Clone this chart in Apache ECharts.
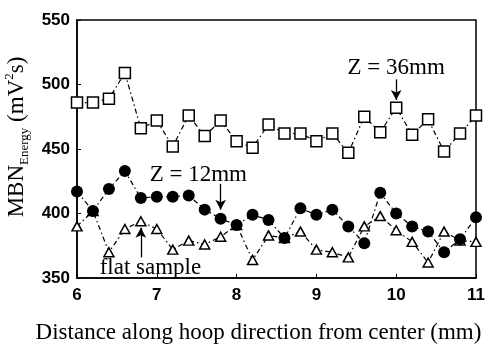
<!DOCTYPE html>
<html>
<head>
<meta charset="utf-8">
<script src="https://cdn.jsdelivr.net/npm/echarts@6/dist/echarts.min.js"></script>
<style>
  html, body { margin: 0; padding: 0; background: #fff; }
  #chart { width: 485px; height: 346px; }
</style>
</head>
<body>
<div id="chart"></div>
<script>
// distance along hoop direction (mm)
const distance = [6.0, 6.2, 6.4, 6.6, 6.8, 7.0, 7.2, 7.4, 7.6, 7.8, 8.0, 8.2, 8.4,
                  8.6, 8.8, 9.0, 9.2, 9.4, 9.6, 9.8, 10.0, 10.2, 10.4, 10.6, 10.8, 11.0];
// MBN energy
const z36 = [486, 486, 489, 509, 466, 472, 452, 476, 460, 472, 456, 451, 469,
             462, 462, 456, 462, 447, 475, 463, 482, 461, 473, 448, 462, 476];
const z12 = [417, 402, 419, 433, 412, 413, 413, 414, 403, 396, 391, 399, 395,
             381, 404, 399, 403, 390, 377, 416, 400, 390, 386, 370, 380, 397];
const flat = [390, 402, 370, 388, 394, 388, 372, 379, 376, 382, 391, 364, 383,
              381, 386, 372, 370, 366, 390, 398, 387, 378, 362, 386, 379, 378];

const xTicks = [6, 7, 8, 9, 10, 11];
const yTicks = [350, 400, 450, 500, 550];

const serif = '"Liberation Serif", "DejaVu Serif", serif';
const sans = '"Liberation Sans", Arial, sans-serif';
const dashDot = [5, 3, 1.5, 3];

const pairs = (ys) => distance.map((x, i) => [x, ys[i]]);

const chart = echarts.init(document.getElementById('chart'));

// text + arrow annotations placed in data coordinates
const note = (text, at) => ({
    coord: at,
    value: text,
    label: { show: true, formatter: text, position: 'inside', color: '#000', fontFamily: serif, fontSize: 23 }
});
const arrow = (from, to) => [{ coord: from }, { coord: to }];
const arrowStyle = {
    silent: true, symbol: ['none', 'arrow'], symbolSize: [8, 10],
    lineStyle: { color: '#000', width: 1.3, type: 'solid' },
    label: { show: false }
};

const baseLine = {
    type: 'line',
    lineStyle: { color: '#000', width: 1.2, type: dashDot },
    clip: true,
    animation: false
};

const option = {
    backgroundColor: '#fff',
    animation: false,
    grid: {
        left: 77, right: 9, top: 20, bottom: 68,
        outerBoundsMode: 'none',
        containLabel: false,
        show: true, borderColor: '#000', borderWidth: 1.5
    },
    xAxis: {
        type: 'value',
        min: xTicks[0],
        max: xTicks[xTicks.length - 1],
        interval: 1,
        name: 'Distance along hoop direction from center (mm)',
        nameLocation: 'middle',
        nameGap: 43,
        nameTextStyle: { fontFamily: serif, fontSize: 23, color: '#000', padding: [0, 36, 0, 0] },
        axisLine: { lineStyle: { color: '#000', width: 1.5 } },
        axisTick: { inside: true, length: 4, lineStyle: { color: '#000' } },
        axisLabel: { fontFamily: sans, fontWeight: 'bold', fontSize: 17, color: '#000', margin: 9 },
        splitLine: { show: false }
    },
    yAxis: {
        type: 'value',
        min: yTicks[0],
        max: yTicks[yTicks.length - 1],
        interval: 50,
        name: '{b|MBN}{sub|Energy}{b| (mV}{sup|2}{b|s)}',
        nameLocation: 'middle',
        nameGap: 45,
        nameTextStyle: {
            padding: [0, 0, 0, 24],
            rich: {
                b: { fontFamily: serif, fontSize: 23, color: '#000', lineHeight: 28, verticalAlign: 'middle' },
                sub: { fontFamily: serif, fontSize: 13, color: '#000', lineHeight: 28, verticalAlign: 'bottom' },
                sup: { fontFamily: serif, fontSize: 13, color: '#000', lineHeight: 28, verticalAlign: 'top' }
            }
        },
        axisLine: { lineStyle: { color: '#000', width: 1.5 } },
        axisTick: { inside: true, length: 4, lineStyle: { color: '#000' } },
        axisLabel: { fontFamily: sans, fontWeight: 'bold', fontSize: 17, color: '#000', margin: 7 },
        splitLine: { show: false }
    },
    series: [
        {
            ...baseLine,
            name: 'Z = 36mm',
            data: pairs(z36),
            symbol: 'rect',
            symbolSize: 11,
            itemStyle: { color: '#fff', borderColor: '#000', borderWidth: 1.5 },
            markPoint: { symbol: 'circle', symbolSize: 0, data: [note('Z = 36mm', [10.0, 513])] },
            markLine: { ...arrowStyle, data: [arrow([10.0, 504], [10.0, 488])] }
        },
        {
            ...baseLine,
            name: 'flat sample',
            data: pairs(flat),
            symbol: 'triangle',
            symbolSize: [10, 9],
            itemStyle: { color: '#fff', borderColor: '#000', borderWidth: 1.5 },
            markPoint: { symbol: 'circle', symbolSize: 0, data: [note('flat sample', [6.92, 358])] },
            markLine: { ...arrowStyle, data: [arrow([6.8, 366], [6.8, 389])] }
        },
        {
            ...baseLine,
            name: 'Z = 12mm',
            data: pairs(z12),
            symbol: 'circle',
            symbolSize: 12,
            itemStyle: { color: '#000', borderColor: '#000', borderWidth: 0 },
            markPoint: { symbol: 'circle', symbolSize: 0, data: [note('Z = 12mm', [7.52, 430])] },
            markLine: { ...arrowStyle, data: [arrow([7.8, 423], [7.8, 403])] }
        }
    ]
};

chart.setOption(option);
</script>
</body>
</html>
